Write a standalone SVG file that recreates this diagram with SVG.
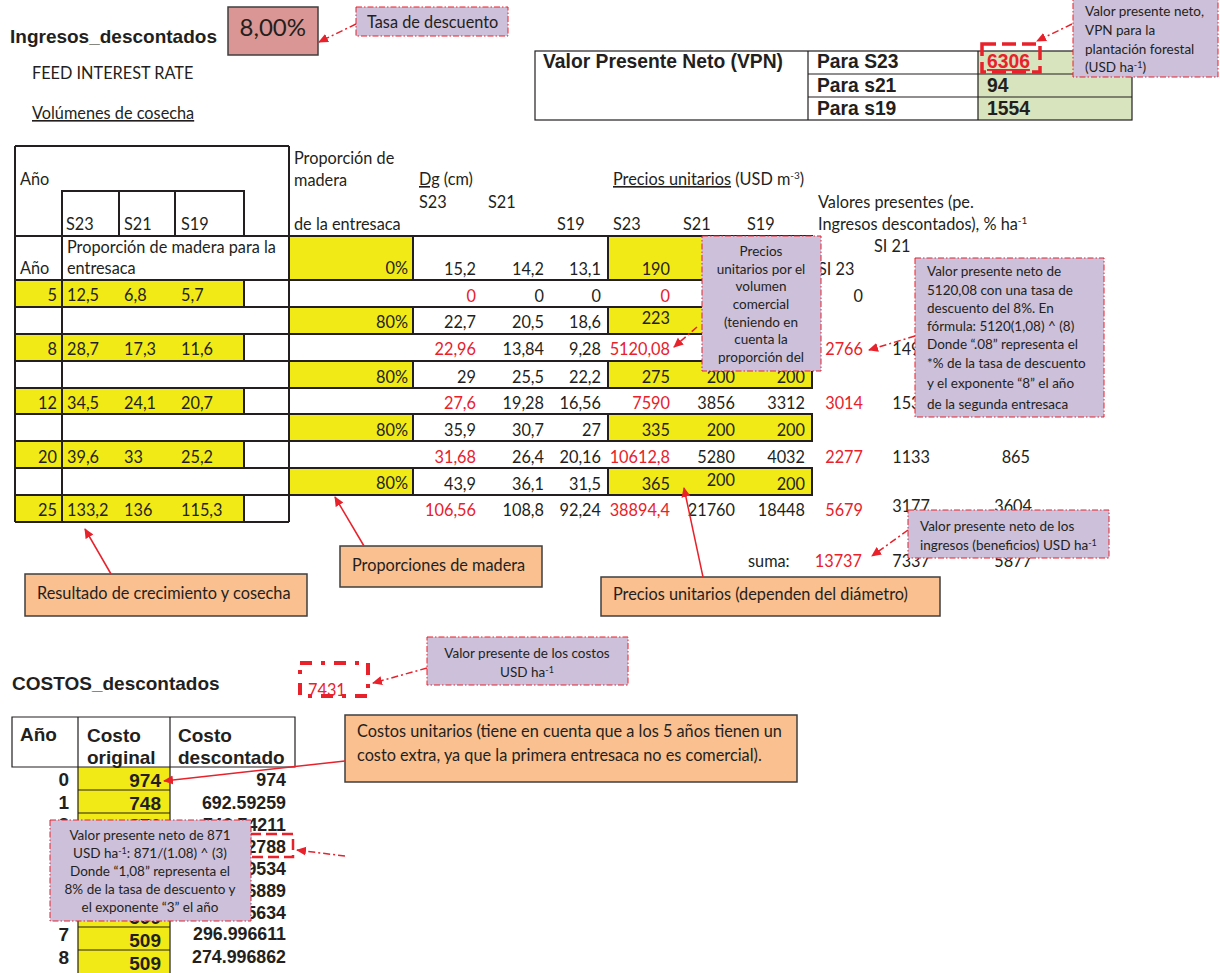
<svg xmlns="http://www.w3.org/2000/svg" width="1220" height="973" viewBox="0 0 1220 973">
<style>
.c{font-family:Lato,"Liberation Sans",sans-serif;font-size:16.3px;fill:#231f20}
.s{font-family:Lato,"Liberation Sans",sans-serif;font-size:13.5px;fill:#231f20}
.a{font-family:"Liberation Sans",Arial,sans-serif;font-weight:bold;fill:#231f20}
.r{fill:#e8212b}
.e{text-anchor:end}
.m{text-anchor:middle}
.u{text-decoration:underline}
.ln{stroke:#231f20;stroke-width:2;fill:none}
.th{stroke:#231f20;stroke-width:1.2;fill:none}
.y{fill:#f2ea17}
.lav{fill:#ccc0da;stroke:#e8212b;stroke-width:1;stroke-dasharray:6 2 1.5 2}
.org{fill:#fac08f;stroke:#3f3f3f;stroke-width:1.5}
.ar{stroke:#e8212b;stroke-width:1.5;fill:none;marker-end:url(#ah)}
.ad{stroke:#e8212b;stroke-width:1.5;fill:none;stroke-dasharray:7 3 2 3;marker-end:url(#ah)}
.bx{fill:none;stroke:#e8212b}
</style>
<defs>
<marker id="ah" viewBox="0 0 10 10" refX="9" refY="5" markerWidth="10" markerHeight="10" markerUnits="userSpaceOnUse" orient="auto"><path d="M0,0.5 L10,5 L0,9.5 z" fill="#e8212b"/></marker>
</defs>
<rect width="1220" height="973" fill="#fff"/>

<g id="titulo-ingresos">
<text class="a" x="10" y="43" font-size="19">Ingresos_descontados</text>
<text class="c" x="32" y="79">FEED INTEREST RATE</text>
<text class="c u" x="32" y="119">Volúmenes de cosecha</text>
</g>

<g id="tasa">
<rect x="228" y="7" width="90" height="48" fill="#d99694" stroke="#3f3f3f" stroke-width="1.5"/>
<text class="c e" x="306" y="36" style="font-size:24px">8,00%</text>
</g>

<g id="vpn-table">
<rect x="978" y="51" width="154" height="69" fill="#d7e4bd"/>
<rect x="535" y="51" width="597" height="69" class="th" stroke-width="1.5"/>
<path class="th" stroke-width="1.5" d="M808,51V120M978,51V120M808,74H1132M808,97H1132"/>
<text class="a" x="543" y="68" font-size="19.3">Valor Presente Neto (VPN)</text>
<text class="a" x="817" y="68" font-size="19.3">Para S23</text>
<text class="a" x="817" y="92" font-size="19.3">Para s21</text>
<text class="a" x="817" y="115" font-size="19.3">Para s19</text>
<text class="a r" x="987" y="68" font-size="19.3" text-decoration="underline">6306</text>
<text class="a" x="987" y="92" font-size="19.3">94</text>
<text class="a" x="987" y="115" font-size="19.3">1554</text>
<rect class="bx" x="982" y="44" width="58" height="28" stroke-width="3.5" stroke-dasharray="14 6"/>
</g>

<g id="tabla-volumenes">
<g class="y">
<rect x="15" y="280" width="229" height="27"/>
<rect x="15" y="334" width="229" height="27"/>
<rect x="15" y="388" width="229" height="26"/>
<rect x="15" y="441" width="229" height="27"/>
<rect x="15" y="495" width="229" height="27"/>
<rect x="289" y="236" width="124" height="44"/>
<rect x="289" y="307" width="124" height="27"/>
<rect x="289" y="361" width="124" height="27"/>
<rect x="289" y="414" width="124" height="27"/>
<rect x="289" y="468" width="124" height="27"/>
<rect x="608" y="236" width="204" height="44"/>
<rect x="608" y="307" width="204" height="27"/>
<rect x="608" y="361" width="204" height="27"/>
<rect x="608" y="414" width="204" height="27"/>
<rect x="608" y="468" width="204" height="27"/>
</g>
<path class="ln" d="M15,146H289M15,146V522M289,146V522M62,236V191H244V236M119,191V236M175,191V236M15,236H413M62,236V522
M15,280H413M15,307H413M15,334H413M15,361H413M15,388H413M15,414H413M15,441H413M15,468H413M15,495H413M15,522H289
M244,280V307M244,334V361M244,388V414M244,441V468M244,495V522"/>
<path class="ln" d="M413,236H812V280H413ZM608,236V280M413,307H812V334H413ZM608,307V334M413,361H812V388H413ZM608,361V388M413,414H812V441H413ZM608,414V441M413,468H812V495H413ZM608,468V495"/>
<text class="c" x="20" y="185">Año</text>
<text class="c" x="66" y="230">S23</text>
<text class="c" x="124" y="230">S21</text>
<text class="c" x="181" y="230">S19</text>
<text class="c" x="294" y="164">Proporción de</text>
<text class="c" x="294" y="186">madera</text>
<text class="c" x="294" y="230">de la entresaca</text>
<text class="c" x="20" y="274">Año</text>
<text class="c" x="67" y="253">Proporción de madera para la</text>
<text class="c" x="67" y="274">entresaca</text>
<text class="c e" x="408" y="274">0%</text>
<text class="c" x="419" y="185"><tspan class="u">Dg</tspan> (cm)</text>
<text class="c" x="613" y="185"><tspan class="u">Precios unitarios</tspan> (USD m<tspan font-size="10" dy="-6">-3</tspan><tspan dy="6">)</tspan></text>
<text class="c" x="419" y="208">S23</text>
<text class="c" x="488" y="208">S21</text>
<text class="c" x="557" y="230">S19</text>
<text class="c" x="613" y="230">S23</text>
<text class="c" x="683" y="230">S21</text>
<text class="c" x="747" y="230">S19</text>
<text class="c" x="818" y="208">Valores presentes (pe.</text>
<text class="c" x="818" y="230">Ingresos descontados), % ha<tspan font-size="10" dy="-6">-1</tspan></text>
<text class="c" x="874" y="252">SI 21</text>
<text class="c" x="818" y="275">SI 23</text>
<g class="c">
<text class="e" x="57" y="301">5</text><text x="67" y="301">12,5</text><text x="124" y="301">6,8</text><text x="181" y="301">5,7</text>
<text class="e" x="57" y="355">8</text><text x="67" y="355">28,7</text><text x="124" y="355">17,3</text><text x="181" y="355">11,6</text>
<text class="e" x="57" y="409">12</text><text x="67" y="409">34,5</text><text x="124" y="409">24,1</text><text x="181" y="409">20,7</text>
<text class="e" x="57" y="463">20</text><text x="67" y="463">39,6</text><text x="124" y="463">33</text><text x="181" y="463">25,2</text>
<text class="e" x="57" y="516">25</text><text x="67" y="516">133,2</text><text x="124" y="516">136</text><text x="181" y="516">115,3</text>
<text class="e" x="408" y="328">80%</text>
<text class="e" x="408" y="383">80%</text>
<text class="e" x="408" y="436">80%</text>
<text class="e" x="408" y="489">80%</text>
</g>
<g class="c e">
<text x="476" y="275">15,2</text><text x="544" y="275">14,2</text><text x="601" y="275">13,1</text><text x="670" y="275">190</text>
<text class="r" x="476" y="302">0</text><text x="544" y="302">0</text><text x="601" y="302">0</text><text class="r" x="670" y="302">0</text><text x="863" y="302">0</text>
<text x="476" y="328">22,7</text><text x="544" y="328">20,5</text><text x="601" y="328">18,6</text><text x="670" y="324">223</text>
<text class="r" x="476" y="355">22,96</text><text x="544" y="355">13,84</text><text x="601" y="355">9,28</text><text class="r" x="670" y="355">5120,08</text><text class="r" x="863" y="355">2766</text><text x="930" y="355">1496</text>
<text x="476" y="383">29</text><text x="544" y="383">25,5</text><text x="601" y="383">22,2</text><text x="670" y="383">275</text><text x="735" y="383">200</text><text x="805" y="383">200</text>
<text class="r" x="476" y="409">27,6</text><text x="544" y="409">19,28</text><text x="601" y="409">16,56</text><text class="r" x="670" y="409">7590</text><text x="735" y="409">3856</text><text x="805" y="409">3312</text><text class="r" x="863" y="409">3014</text><text x="930" y="409">1536</text>
<text x="476" y="436">35,9</text><text x="544" y="436">30,7</text><text x="601" y="436">27</text><text x="670" y="436">335</text><text x="735" y="436">200</text><text x="805" y="436">200</text>
<text class="r" x="476" y="463">31,68</text><text x="544" y="463">26,4</text><text x="601" y="463">20,16</text><text class="r" x="670" y="463">10612,8</text><text x="735" y="463">5280</text><text x="805" y="463">4032</text><text class="r" x="863" y="463">2277</text><text x="930" y="463">1133</text><text x="1030" y="463">865</text>
<text x="476" y="490">43,9</text><text x="544" y="490">36,1</text><text x="601" y="490">31,5</text><text x="670" y="490">365</text><text x="735" y="486">200</text><text x="805" y="490">200</text>
<text class="r" x="476" y="516">106,56</text><text x="544" y="516">108,8</text><text x="601" y="516">92,24</text><text class="r" x="670" y="516">38894,4</text><text x="735" y="516">21760</text><text x="805" y="516">18448</text><text class="r" x="863" y="516">5679</text><text x="930" y="512">3177</text><text x="1032" y="512">3604</text>
<text class="r" x="862" y="567">13737</text><text x="930" y="567">7337</text><text x="1032" y="567">5877</text>
</g>
<text class="c" x="748" y="567">suma:</text>
</g>

<g id="callout-tasa">
<rect class="lav" x="356" y="7" width="152" height="29"/>
<text class="c" x="367" y="28">Tasa de descuento</text>
</g>

<g id="callout-vpn">
<rect class="lav" x="1073" y="-2" width="145" height="79"/>
<text class="s" x="1085" y="16">Valor presente neto,</text>
<text class="s" x="1085" y="35">VPN para la</text>
<text class="s" x="1085" y="54">plantación forestal</text>
<text class="s" x="1085" y="72">(USD ha<tspan font-size="9" dy="-4">-1</tspan><tspan dy="4">)</tspan></text>
</g>

<g id="callout-precios">
<rect class="lav" x="702" y="236" width="119" height="135"/>
<g class="s m">
<text x="761" y="256">Precios</text>
<text x="761" y="274">unitarios por el</text>
<text x="761" y="291">volumen</text>
<text x="761" y="309">comercial</text>
<text x="761" y="327">(teniendo en</text>
<text x="761" y="344">cuenta la</text>
<text x="761" y="362">proporción del</text>
</g>
</g>

<g id="callout-5120">
<rect class="lav" x="915" y="258" width="189" height="159"/>
<g class="s">
<text x="927" y="276">Valor presente neto de</text>
<text x="927" y="295">5120,08 con una tasa de</text>
<text x="927" y="313">descuento del 8%. En</text>
<text x="927" y="331">fórmula: 5120(1,08) ^ (8)</text>
<text x="927" y="349">Donde “.08” representa el</text>
<text x="927" y="368">*% de la tasa de descuento</text>
<text x="927" y="388">y el exponente “8” el año</text>
<text x="927" y="409">de la segunda entresaca</text>
</g>
</g>

<g id="callout-suma">
<rect class="lav" x="908" y="510" width="201" height="48"/>
<text class="s" x="920" y="531">Valor presente neto de los</text>
<text class="s" x="920" y="550">ingresos (beneficios) USD ha<tspan font-size="9" dy="-4">-1</tspan></text>
</g>

<g id="nota-resultado">
<rect class="org" x="25" y="574" width="282" height="42"/>
<text class="c" x="37" y="599">Resultado de crecimiento y cosecha</text>
</g>
<g id="nota-proporciones">
<rect class="org" x="340" y="546" width="202" height="41"/>
<text class="c" x="352" y="571">Proporciones de madera</text>
</g>
<g id="nota-precios">
<rect class="org" x="601" y="577" width="339" height="39"/>
<text class="c" x="613" y="600">Precios unitarios (dependen del diámetro)</text>
</g>

<g id="titulo-costos">
<text class="a" x="12" y="690" font-size="19">COSTOS_descontados</text>
</g>

<g id="costo-total">
<text class="c r" x="308" y="696">7431</text>
<rect class="bx" x="300" y="663" width="68" height="33" stroke-width="4" stroke-dasharray="12 9 4 9"/>
</g>

<g id="callout-costos">
<rect class="lav" x="427" y="637" width="201" height="48"/>
<text class="s m" x="527" y="658">Valor presente de los costos</text>
<text class="s m" x="527" y="677">USD ha<tspan font-size="9" dy="-4">-1</tspan></text>
</g>

<g id="tabla-costos">
<rect class="y" x="78" y="767" width="92" height="206"/>
<path class="th" stroke-width="1.5" d="M12,717H295V767H12ZM78,717V973M170,717V973"/>
<path class="th" stroke-width="1" d="M78,790H170M78,813H170M78,835H170M78,858H170M78,881H170M78,904H170M78,927H170M78,950H170"/>
<g class="a" font-size="19">
<text x="20" y="741">Año</text>
<text x="87" y="742">Costo</text>
<text x="87" y="764">original</text>
<text x="178" y="742">Costo</text>
<text x="178" y="764">descontado</text>
</g>
<g class="a e" font-size="19">
<text x="69" y="786">0</text><text x="69" y="809">1</text><text x="69" y="831">2</text><text x="69" y="941">7</text><text x="69" y="964">8</text>
<text x="161" y="787">974</text><text x="161" y="810">748</text><text x="161" y="832">871</text><text x="161" y="924">509</text><text x="161" y="947">509</text><text x="161" y="970">509</text>
</g>
<g class="a e" font-size="17.8">
<text x="286" y="786">974</text><text x="286" y="809">692.59259</text><text x="286" y="831">746.74211</text><text x="286" y="853">691.42788</text><text x="286" y="875">507.19534</text><text x="286" y="897">850.76889</text><text x="286" y="919">320.75634</text><text x="286" y="940">296.996611</text><text x="286" y="963">274.996862</text>
</g>
<rect class="bx" x="250" y="834" width="43" height="23" stroke-width="2.5" stroke-dasharray="11 5"/>
</g>

<g id="callout-871">
<rect class="lav" x="50" y="820" width="201" height="101"/>
<g class="s m">
<text x="150" y="840">Valor presente neto de 871</text>
<text x="150" y="858">USD ha<tspan font-size="9" dy="-4">-1</tspan><tspan dy="4">: 871/(1.08) ^ (3)</tspan></text>
<text x="150" y="876">Donde “1,08” representa el</text>
<text x="150" y="894">8% de la tasa de descuento y</text>
<text x="150" y="912">el exponente “3” el año</text>
</g>
</g>

<g id="nota-costos">
<rect class="org" x="345" y="715" width="452" height="67"/>
<text class="c" x="357" y="737">Costos unitarios (tiene  en cuenta que a los 5 años tienen un</text>
<text class="c" x="357" y="761">costo extra, ya que la primera entresaca no es comercial).</text>
</g>

<g id="connectors">
<path class="ad" d="M356,24L319,42"/>
<path class="ad" d="M1072,24L1037,41"/>
<path class="ad" d="M697,327L674,347"/>
<path class="ad" d="M915,336L869,350"/>
<path class="ad" d="M908,530L872,556"/>
<path class="ad" d="M427,668L373,683"/>
<path class="ad" d="M345,856L297,850"/>
<path class="ar" d="M111,574L85,529"/>
<path class="ar" d="M364,546L335,497"/>
<path class="ar" d="M703,577L684,488"/>
<path class="ar" d="M345,761L164,781"/>
</g>
</svg>
